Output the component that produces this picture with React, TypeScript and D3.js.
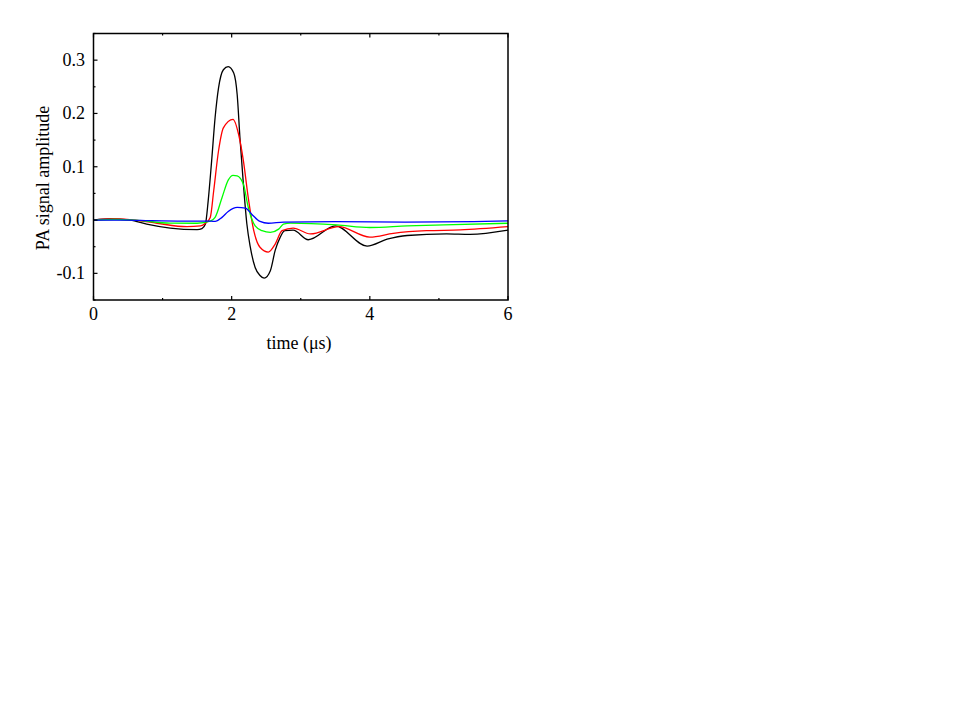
import React, { useEffect, useRef } from "react";
import * as d3 from "d3";

// time (µs) samples for each trace
const blackT = [0, 0.24, 0.53, 0.77, 1.11, 1.5, 1.57, 1.62, 1.66, 1.71, 1.76, 1.81, 1.88, 1.95, 2.03, 2.08, 2.12, 2.17, 2.22, 2.27, 2.34, 2.41, 2.47, 2.56, 2.63, 2.7, 2.77, 2.89, 3.11, 3.5, 3.96, 4.25, 4.54, 5.11, 5.45, 6];
const blackV = [0, 0.002, 0, -0.0075, -0.015, -0.018, -0.016, -0.0075, 0.036, 0.111, 0.192, 0.248, 0.282, 0.288, 0.276, 0.235, 0.154, 0.067, -0.0075, -0.051, -0.089, -0.104, -0.109, -0.095, -0.057, -0.033, -0.02, -0.019, -0.037, -0.011, -0.049, -0.036, -0.029, -0.026, -0.027, -0.019];

const redT = [0, 0.3, 0.6, 0.92, 1.35, 1.55, 1.62, 1.69, 1.74, 1.81, 1.88, 2.02, 2.1, 2.17, 2.24, 2.32, 2.41, 2.53, 2.63, 2.73, 2.89, 3.14, 3.55, 4, 4.34, 4.82, 5.31, 6];
const redV = [0, 0.002, 0, -0.006, -0.0125, -0.011, -0.006, 0.005, 0.055, 0.13, 0.173, 0.189, 0.161, 0.111, 0.042, -0.02, -0.051, -0.06, -0.045, -0.02, -0.015, -0.026, -0.0125, -0.032, -0.025, -0.02, -0.0185, -0.0125];

const greenT = [0, 0.3, 0.6, 1.11, 1.5, 1.69, 1.76, 1.86, 1.95, 2.02, 2.08, 2.17, 2.24, 2.34, 2.44, 2.56, 2.68, 2.75, 2.85, 3.52, 4, 4.54, 5.07, 6];
const greenV = [0, 0.001, 0, -0.0057, -0.006, -0.002, 0.005, 0.042, 0.075, 0.084, 0.083, 0.067, 0.024, -0.011, -0.02, -0.023, -0.017, -0.0075, -0.0057, -0.009, -0.014, -0.011, -0.009, -0.006];

const blueT = [0, 0.5, 0.8, 1.3, 1.7, 1.76, 1.86, 1.95, 2.08, 2.2, 2.29, 2.41, 2.53, 2.75, 3.5, 4.5, 5.5, 6];
const blueV = [0, 0, -0.001, -0.002, -0.002, -0.0026, 0.005, 0.016, 0.0236, 0.0224, 0.011, -0.0026, -0.006, -0.004, -0.003, -0.004, -0.003, -0.0016];

const traces = [
  { t: blackT, v: blackV, color: "#000000" },
  { t: redT, v: redV, color: "#ff0000" },
  { t: greenT, v: greenV, color: "#00ff00" },
  { t: blueT, v: blueV, color: "#0000ff" },
];

const xMajor = [0, 2, 4, 6];
const xMinor = [1, 3, 5];
const yMajor = [-0.1, 0.0, 0.1, 0.2, 0.3];
const yMinor = [-0.15, -0.05, 0.05, 0.15, 0.25, 0.35];

const App = () => {
  const ref = useRef<SVGSVGElement>(null);

  useEffect(() => {
    const svg = d3.select(ref.current);
    svg.selectAll("*").remove();

    const left = 93.5, right = 508, top = 33.5, bottom = 300;
    const x = d3.scaleLinear().domain([0, 6]).range([left, right]);
    const y = d3.scaleLinear().domain([-0.15, 0.35]).range([bottom, top]);
    const font = "'Liberation Serif', 'Times New Roman', serif";

    // traces first, frame drawn on top
    traces.forEach((tr) => {
      const pts = tr.t.map((t, i) => [t, tr.v[i]] as [number, number]);
      const l = d3
        .line<[number, number]>()
        .x((d) => x(d[0]))
        .y((d) => y(d[1]))
        .curve(d3.curveMonotoneX);
      svg
        .append("path")
        .attr("d", l(pts))
        .attr("fill", "none")
        .attr("stroke", tr.color)
        .attr("stroke-width", 1.3);
    });

    svg
      .append("rect")
      .attr("x", left)
      .attr("y", top)
      .attr("width", right - left)
      .attr("height", bottom - top)
      .attr("fill", "none")
      .attr("stroke", "#000")
      .attr("stroke-width", 1.5);

    const g = svg.append("g").attr("stroke", "#000").attr("stroke-width", 1.2);
    xMajor.forEach((v) => {
      g.append("line").attr("x1", x(v)).attr("x2", x(v)).attr("y1", bottom).attr("y2", bottom - 4);
      g.append("line").attr("x1", x(v)).attr("x2", x(v)).attr("y1", top).attr("y2", top + 4);
    });
    xMinor.forEach((v) => {
      g.append("line").attr("x1", x(v)).attr("x2", x(v)).attr("y1", bottom).attr("y2", bottom - 2);
      g.append("line").attr("x1", x(v)).attr("x2", x(v)).attr("y1", top).attr("y2", top + 2);
    });
    yMajor.forEach((v) => {
      g.append("line").attr("x1", left).attr("x2", left + 4).attr("y1", y(v)).attr("y2", y(v));
    });
    yMinor.forEach((v) => {
      g.append("line").attr("x1", left).attr("x2", left + 2).attr("y1", y(v)).attr("y2", y(v));
    });

    svg
      .selectAll(".xl")
      .data(xMajor)
      .enter()
      .append("text")
      .attr("x", (d) => x(d))
      .attr("y", 320)
      .attr("text-anchor", "middle")
      .style("font-family", font)
      .style("font-size", "18px")
      .text((d) => d);

    svg
      .selectAll(".yl")
      .data(yMajor)
      .enter()
      .append("text")
      .attr("x", 85)
      .attr("y", (d) => y(d) + 6)
      .attr("text-anchor", "end")
      .style("font-family", font)
      .style("font-size", "18px")
      .text((d) => d3.format(".1f")(d).replace("\u2212", "-"));

    svg
      .append("text")
      .attr("x", 299)
      .attr("y", 349)
      .attr("text-anchor", "middle")
      .style("font-family", font)
      .style("font-size", "18px")
      .text("time (\u03bcs)");

    svg
      .append("text")
      .attr("transform", "translate(49,178) rotate(-90)")
      .attr("text-anchor", "middle")
      .style("font-family", font)
      .style("font-size", "18px")
      .text("PA signal amplitude");
  }, []);

  return (
    <svg
      ref={ref}
      width={959}
      height={719}
      style={{ position: "absolute", left: 0, top: 0, background: "#fff" }}
    />
  );
};

export default App;
